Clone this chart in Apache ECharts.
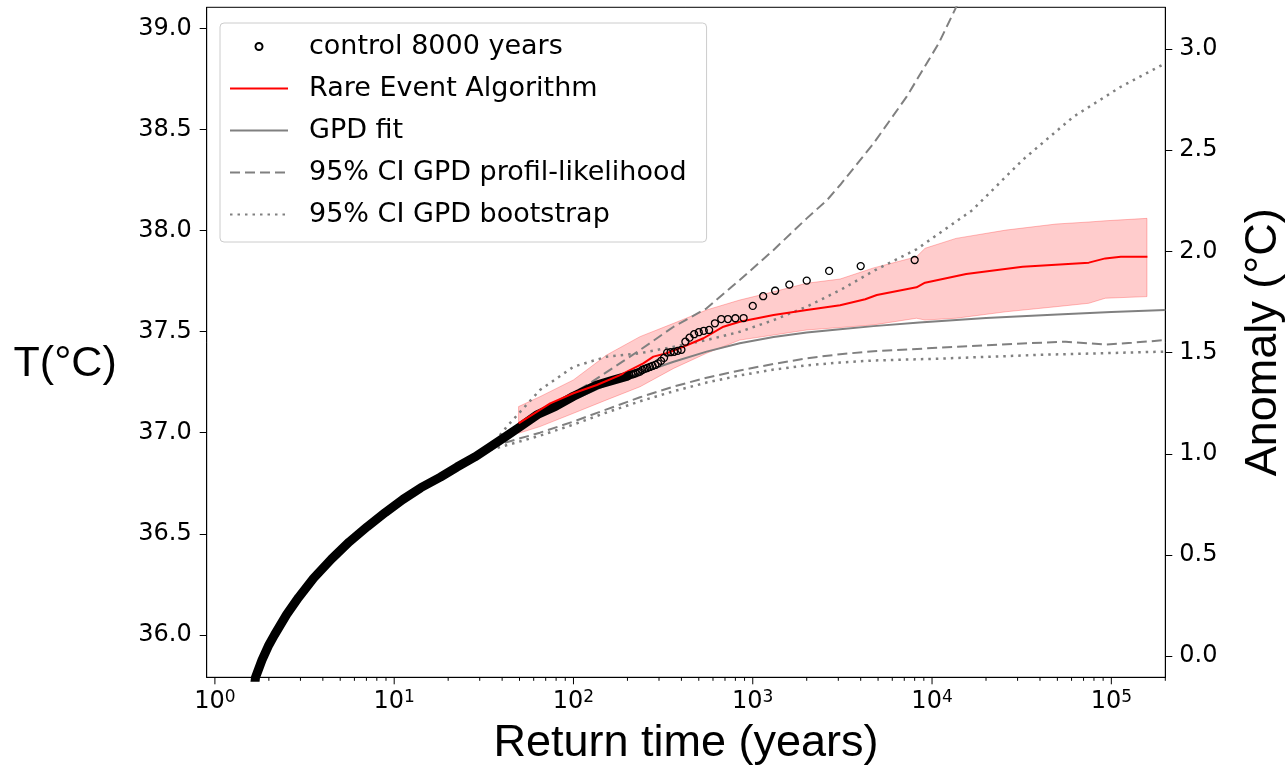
<!DOCTYPE html>
<html>
<head>
<meta charset="utf-8">
<script src="https://cdn.jsdelivr.net/npm/echarts@6/dist/echarts.min.js"></script>
<style>
html,body{margin:0;padding:0;background:#fff;}
#chart{width:1286px;height:765px;}
</style>
</head>
<body>
<div id="chart"></div>
<script>
// ---------------- DATA ----------------
// Control run (8000 years): individual largest events (return time in years, temperature °C)
const controlReturn = [8000, 4000, 2667, 2000, 1600, 1333, 1143, 1000, 889, 800, 727, 667, 615, 571, 533, 500, 471, 444, 421, 400, 381, 364, 348, 333, 320, 308, 296, 286, 276, 267, 258, 250, 242, 235, 229, 222, 216, 211, 205, 200];
const controlTemp   = [37.854, 37.824, 37.800, 37.752, 37.732, 37.702, 37.675, 37.627, 37.567, 37.566, 37.562, 37.562, 37.541, 37.508, 37.504, 37.497, 37.487, 37.470, 37.450, 37.410, 37.405, 37.400, 37.398, 37.396, 37.370, 37.355, 37.343, 37.335, 37.330, 37.325, 37.320, 37.316, 37.310, 37.302, 37.298, 37.294, 37.290, 37.287, 37.284, 37.280];
// Control run: dense part where markers overlap into a solid band
const controlBandReturn = [1.66, 1.685, 1.83, 2.0, 2.15, 2.51, 2.93, 3.55, 4.47, 5.62, 7.08, 8.91, 11.2, 14.1, 18.1, 22.4, 28.2, 34.4, 41.7, 50.5, 63.1, 79.4, 100, 135, 167, 200];
const controlBandTemp   = [35.74, 35.79, 35.875, 35.95, 36.00, 36.10, 36.185, 36.28, 36.375, 36.46, 36.535, 36.605, 36.67, 36.728, 36.78, 36.83, 36.88, 36.93, 36.98, 37.03, 37.09, 37.13, 37.18, 37.236, 37.26, 37.28];

// Rare Event Algorithm estimate
const reaReturn = [49.4, 74.2, 100, 135, 182, 245, 279, 331, 409, 531, 686, 846, 1307, 2000, 3070, 4240, 4920, 8190, 9140, 15500, 32000, 74900, 92500, 113000, 159000];
const reaTemp   = [37.046, 37.145, 37.195, 37.236, 37.285, 37.343, 37.376, 37.393, 37.425, 37.467, 37.524, 37.549, 37.582, 37.607, 37.630, 37.660, 37.681, 37.719, 37.742, 37.785, 37.821, 37.841, 37.862, 37.870, 37.870];
// Rare Event Algorithm confidence band
const reaBandReturn = [49.4, 65, 100, 153, 235, 362, 553, 846, 1307, 2000, 3070, 4720, 8190, 9140, 13600, 25800, 49200, 74900, 92500, 158000];
const reaBandLow    = [36.997, 37.030, 37.096, 37.162, 37.227, 37.318, 37.393, 37.458, 37.483, 37.508, 37.520, 37.533, 37.566, 37.557, 37.566, 37.598, 37.623, 37.640, 37.665, 37.673];
const reaBandHigh   = [37.129, 37.178, 37.261, 37.384, 37.475, 37.541, 37.607, 37.656, 37.697, 37.739, 37.760, 37.815, 37.870, 37.912, 37.961, 38.002, 38.032, 38.042, 38.048, 38.060];

// GPD fit
const gpdReturn = [34.4, 65, 100, 153, 235, 362, 553, 846, 1307, 2000, 3070, 4720, 8500, 20000, 50000, 100000, 200000];
const gpdTemp   = [36.923, 37.079, 37.162, 37.236, 37.294, 37.351, 37.401, 37.442, 37.473, 37.495, 37.512, 37.527, 37.545, 37.567, 37.585, 37.597, 37.607];

// 95% CI GPD profile-likelihood
const plHighReturn = [34.4, 65, 123, 235, 362, 553, 846, 1307, 2000, 2600, 3070, 4720, 7220, 10900, 14600];
const plHighTemp   = [36.93, 37.096, 37.244, 37.409, 37.524, 37.615, 37.755, 37.904, 38.060, 38.151, 38.225, 38.431, 38.662, 38.926, 39.16];
const plLowReturn  = [34.4, 65, 100, 153, 235, 362, 553, 846, 1307, 2000, 3070, 4720, 10900, 30000, 55700, 92500, 130000, 200000];
const plLowTemp    = [36.93, 37.00, 37.055, 37.115, 37.175, 37.228, 37.272, 37.308, 37.340, 37.368, 37.388, 37.403, 37.420, 37.440, 37.450, 37.436, 37.445, 37.458];

// 95% CI GPD bootstrap
const bsHighReturn = [34.4, 42.5, 65, 100, 153, 235, 362, 553, 846, 1307, 2000, 3070, 4720, 8190, 16800, 32000, 61300, 113000, 200000];
const bsHighTemp   = [36.93, 37.03, 37.211, 37.326, 37.376, 37.393, 37.425, 37.458, 37.499, 37.557, 37.623, 37.705, 37.800, 37.907, 38.101, 38.349, 38.562, 38.711, 38.827];
const bsLowReturn  = [34.4, 65, 100, 153, 235, 362, 553, 846, 1307, 2000, 3070, 4720, 10900, 40000, 200000];
const bsLowTemp    = [36.915, 36.985, 37.04, 37.10, 37.155, 37.205, 37.248, 37.283, 37.312, 37.333, 37.347, 37.357, 37.366, 37.385, 37.401];

// Tick labels
const xMajorTicks = [1, 10, 100, 1000, 10000, 100000];
const tTicks = [36.0, 36.5, 37.0, 37.5, 38.0, 38.5, 39.0];
const anomalyTicks = [0.0, 0.5, 1.0, 1.5, 2.0, 2.5, 3.0];

// ---------------- CHART ----------------
const X_MIN = 0.9, X_MAX = 200000;
const T_MIN = 35.79, T_MAX = 39.104;
const A_MIN = -0.104, A_MAX = 3.206;

const pairs = (xs, ys) => xs.map((x, i) => [x, ys[i]]);
const xMinorTicks = [];
for (let e = 0; e <= 5; e++) for (let m = 2; m <= 9; m++) { const v = m * Math.pow(10, e); if (v <= X_MAX) xMinorTicks.push(v); }
const xTickData = xMajorTicks.map(v => [v, 1]).concat(xMinorTicks.map(v => [v, 0]));

const GRAY = '#808080';
const tickFont = 'DejaVu Sans';
const titleFont = 'Liberation Sans';
const hideSym = {opacity: 0};

const chart = echarts.init(document.getElementById('chart'), null, {renderer: 'canvas'});
const option = {
  animation: false,
  backgroundColor: '#fff',
  grid: {left: 206.7, right: 120.7, top: 7.3, bottom: 87.7, outerBoundsMode: 'none', containLabel: false,
         show: true, borderColor: '#000', borderWidth: 1, backgroundColor: 'transparent'},
  legend: {
    left: 220, top: 23, orient: 'vertical',
    data: [
      {name: 'control 8000 years'},
      {name: 'Rare Event Algorithm', itemStyle: hideSym},
      {name: 'GPD fit', itemStyle: hideSym},
      {name: '95% CI GPD profil-likelihood', itemStyle: hideSym},
      {name: '95% CI GPD bootstrap', itemStyle: hideSym}
    ],
    itemWidth: 58, itemHeight: 7, itemGap: 15,
    padding: [10, 20, 14, 9],
    backgroundColor: 'rgba(255,255,255,0.85)', borderColor: '#cccccc', borderWidth: 1, borderRadius: 4,
    textStyle: {fontFamily: tickFont, fontSize: 27, color: '#000', lineHeight: 27, padding: [0, 0, 0, 16]},
    selectedMode: false
  },
  xAxis: [{
    type: 'log', logBase: 10, min: X_MIN, max: X_MAX, splitNumber: 5,
    name: 'Return time (years)', nameLocation: 'middle', nameGap: 44,
    nameTextStyle: {fontFamily: titleFont, fontSize: 45, color: '#000'},
    axisLine: {show: true, onZero: false, lineStyle: {color: '#000', width: 1}},
    axisTick: {show: false},
    splitLine: {show: false},
    axisLabel: {
      margin: 12, showMinLabel: false, showMaxLabel: false,
      formatter: v => { const l = Math.log10(v); const k = Math.round(l); if (Math.abs(l - k) > 1e-6 || xMajorTicks.indexOf(Math.pow(10, k)) < 0) return ''; return '{b|10}{s|' + k + '}'; },
      rich: {
        b: {fontFamily: tickFont, fontSize: 24, color: '#000'},
        s: {fontFamily: tickFont, fontSize: 17, color: '#000', verticalAlign: 'top'}
      }
    }
  }],
  yAxis: [{
    type: 'value', min: T_MIN, max: T_MAX, position: 'left',
    name: 'T(°C)', nameLocation: 'middle', nameRotate: 0, nameGap: 90,
    nameTextStyle: {fontFamily: titleFont, fontSize: 43, color: '#000', verticalAlign: 'top', lineHeight: 43},
    axisLine: {show: true, onZero: false, lineStyle: {color: '#000', width: 1}},
    axisTick: {show: true, length: 7, lineStyle: {color: '#000', width: 1}, customValues: tTicks},
    splitLine: {show: false},
    axisLabel: {margin: 15, customValues: tTicks, formatter: v => v.toFixed(1), fontFamily: tickFont, fontSize: 24, color: '#000'}
  }, {
    type: 'value', min: A_MIN, max: A_MAX, position: 'right',
    name: 'Anomaly (°C)', nameLocation: 'middle', nameGap: 76,
    nameTextStyle: {fontFamily: titleFont, fontSize: 45, color: '#000'},
    axisLine: {show: true, onZero: false, lineStyle: {color: '#000', width: 1}},
    axisTick: {show: true, length: 7, lineStyle: {color: '#000', width: 1}, customValues: anomalyTicks},
    splitLine: {show: false},
    axisLabel: {margin: 14, customValues: anomalyTicks, formatter: v => v.toFixed(1), fontFamily: tickFont, fontSize: 24, color: '#000'}
  }],
  series: [
    // x-axis ticks (major + minor), placed through the axis scale
    {
      type: 'custom', name: 'xticks', silent: true, clip: false, z: 10,
      xAxisIndex: 0, yAxisIndex: 0,
      data: xTickData,
      renderItem: (params, api) => {
        const p = api.coord([api.value(0), T_MIN]);
        const len = api.value(1) ? 7 : 3.5;
        return {type: 'line', shape: {x1: p[0], y1: p[1], x2: p[0], y2: p[1] + len}, style: {stroke: '#000', lineWidth: 1}};
      }
    },
    // REA confidence band (polygon through the axis scales)
    {
      type: 'custom', name: 'reaBand', silent: true, z: 1,
      xAxisIndex: 0, yAxisIndex: 0,
      data: [[reaBandReturn[0], reaBandLow[0]]],
      renderItem: (params, api) => {
        const pts = [];
        for (let i = 0; i < reaBandReturn.length; i++) pts.push(api.coord([reaBandReturn[i], reaBandHigh[i]]));
        for (let i = reaBandReturn.length - 1; i >= 0; i--) pts.push(api.coord([reaBandReturn[i], reaBandLow[i]]));
        return {type: 'polygon', shape: {points: pts}, style: {fill: 'rgba(255,0,0,0.2)', stroke: 'rgba(255,0,0,0.25)', lineWidth: 1}};
      }
    },
    // GPD fit and CIs
    {
      type: 'line', name: 'GPD fit', symbol: 'none', z: 2,
      lineStyle: {color: GRAY, width: 2}, itemStyle: {color: GRAY},
      data: pairs(gpdReturn, gpdTemp)
    },
    {
      type: 'line', name: '95% CI GPD profil-likelihood', symbol: 'none', z: 2,
      lineStyle: {color: GRAY, width: 2, type: [10, 5]}, itemStyle: {color: GRAY},
      data: pairs(plHighReturn, plHighTemp)
    },
    {
      type: 'line', name: '95% CI GPD profil-likelihood', symbol: 'none', z: 2,
      lineStyle: {color: GRAY, width: 2, type: [10, 5]}, itemStyle: {color: GRAY},
      data: pairs(plLowReturn, plLowTemp)
    },
    {
      type: 'line', name: '95% CI GPD bootstrap', symbol: 'none', z: 2,
      lineStyle: {color: GRAY, width: 2.5, type: [2.5, 5], cap: 'butt'}, itemStyle: {color: GRAY},
      data: pairs(bsHighReturn, bsHighTemp)
    },
    {
      type: 'line', name: '95% CI GPD bootstrap', symbol: 'none', z: 2,
      lineStyle: {color: GRAY, width: 2.5, type: [2.5, 5], cap: 'butt'}, itemStyle: {color: GRAY},
      data: pairs(bsLowReturn, bsLowTemp)
    },
    // Control: dense overlapping markers
    {
      type: 'line', name: 'controlBand', symbol: 'none', silent: true, z: 3,
      lineStyle: {color: '#000', width: 9, cap: 'round', join: 'round'},
      data: pairs(controlBandReturn, controlBandTemp)
    },
    // Rare Event Algorithm
    {
      type: 'line', name: 'Rare Event Algorithm', symbol: 'none', z: 4,
      lineStyle: {color: '#ff0000', width: 2}, itemStyle: {color: '#ff0000'},
      data: pairs(reaReturn, reaTemp)
    },
    // Control: individual events
    {
      type: 'scatter', name: 'control 8000 years', symbol: 'circle', symbolSize: 7, z: 5,
      itemStyle: {color: 'rgba(0,0,0,0)', borderColor: '#000', borderWidth: 1.3, opacity: 1},
      data: pairs(controlReturn, controlTemp)
    }
  ]
};
chart.setOption(option);
</script>
</body>
</html>
